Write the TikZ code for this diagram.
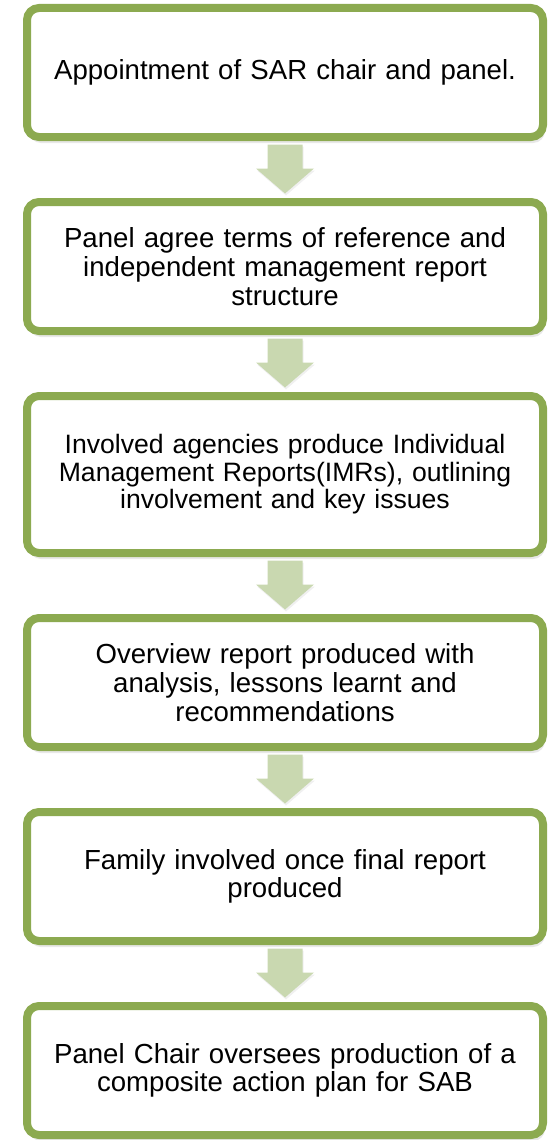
\documentclass[tikz,border=0pt]{standalone}
\usepackage{fontspec}
\setmainfont{Liberation Sans}
\usetikzlibrary{calc,shadows}
\definecolor{boxgreen}{RGB}{140,170,80}
\definecolor{arrowgreen}{RGB}{201,216,176}
\tikzset{
  stepbox/.style={draw=boxgreen, line width=8pt, rounded corners=12pt, fill=white,
    minimum width=516pt, minimum height=129pt, text width=490pt, inner sep=0pt,
    align=center, font=\fontsize{27.6}{28.7}\selectfont,
    drop shadow={shadow xshift=2pt, shadow yshift=-6pt, opacity=.18}},
  blockarrow/.style={draw=none, fill=arrowgreen,
    drop shadow={shadow xshift=1pt, shadow yshift=-2pt, opacity=.12},
    to path={let \p1=(\tikztostart), \p2=(\tikztotarget) in
      (\x1-17.5pt,\y1-3.5pt) -- (\x1+17.5pt,\y1-3.5pt) -- (\x1+17.5pt,\y2+29.5pt)
      -- (\x1+29pt,\y2+29.5pt) -- (\x1,\y2+4.5pt) -- (\x1-29pt,\y2+29.5pt)
      -- (\x1-17.5pt,\y2+29.5pt) -- cycle}}
}
\begin{document}
\begin{tikzpicture}[x=1pt,y=-1pt]
\useasboundingbox (0,0) rectangle (548,1140);
\node[stepbox] (appoint) at (285,72.5) {Appointment of SAR chair and panel.};
\node[stepbox] (terms) at (285,266.5) {Panel agree terms of reference and\\ independent management report\\ structure};
\node[stepbox, minimum height=157pt, font=\fontsize{26.6}{27.5}\selectfont] (imr) at (285,474.5)
  {Involved agencies produce Individual\\ Management Reports(IMRs), outlining\\ involvement and key issues};
\node[stepbox] (overview) at (285,682.5) {Overview report produced with\\ analysis, lessons learnt and\\ recommendations};
\node[stepbox] (family) at (285,876.5) {Family involved once final report\\ produced};
\node[stepbox] (plan) at (285,1070.5) {Panel Chair oversees production of a\\ composite action plan for SAB};
\path
(appoint.south) edge[blockarrow] (terms.north)
(terms.south) edge[blockarrow] (imr.north)
(imr.south) edge[blockarrow] (overview.north)
(overview.south) edge[blockarrow] (family.north)
(family.south) edge[blockarrow] (plan.north);
\end{tikzpicture}
\end{document}
